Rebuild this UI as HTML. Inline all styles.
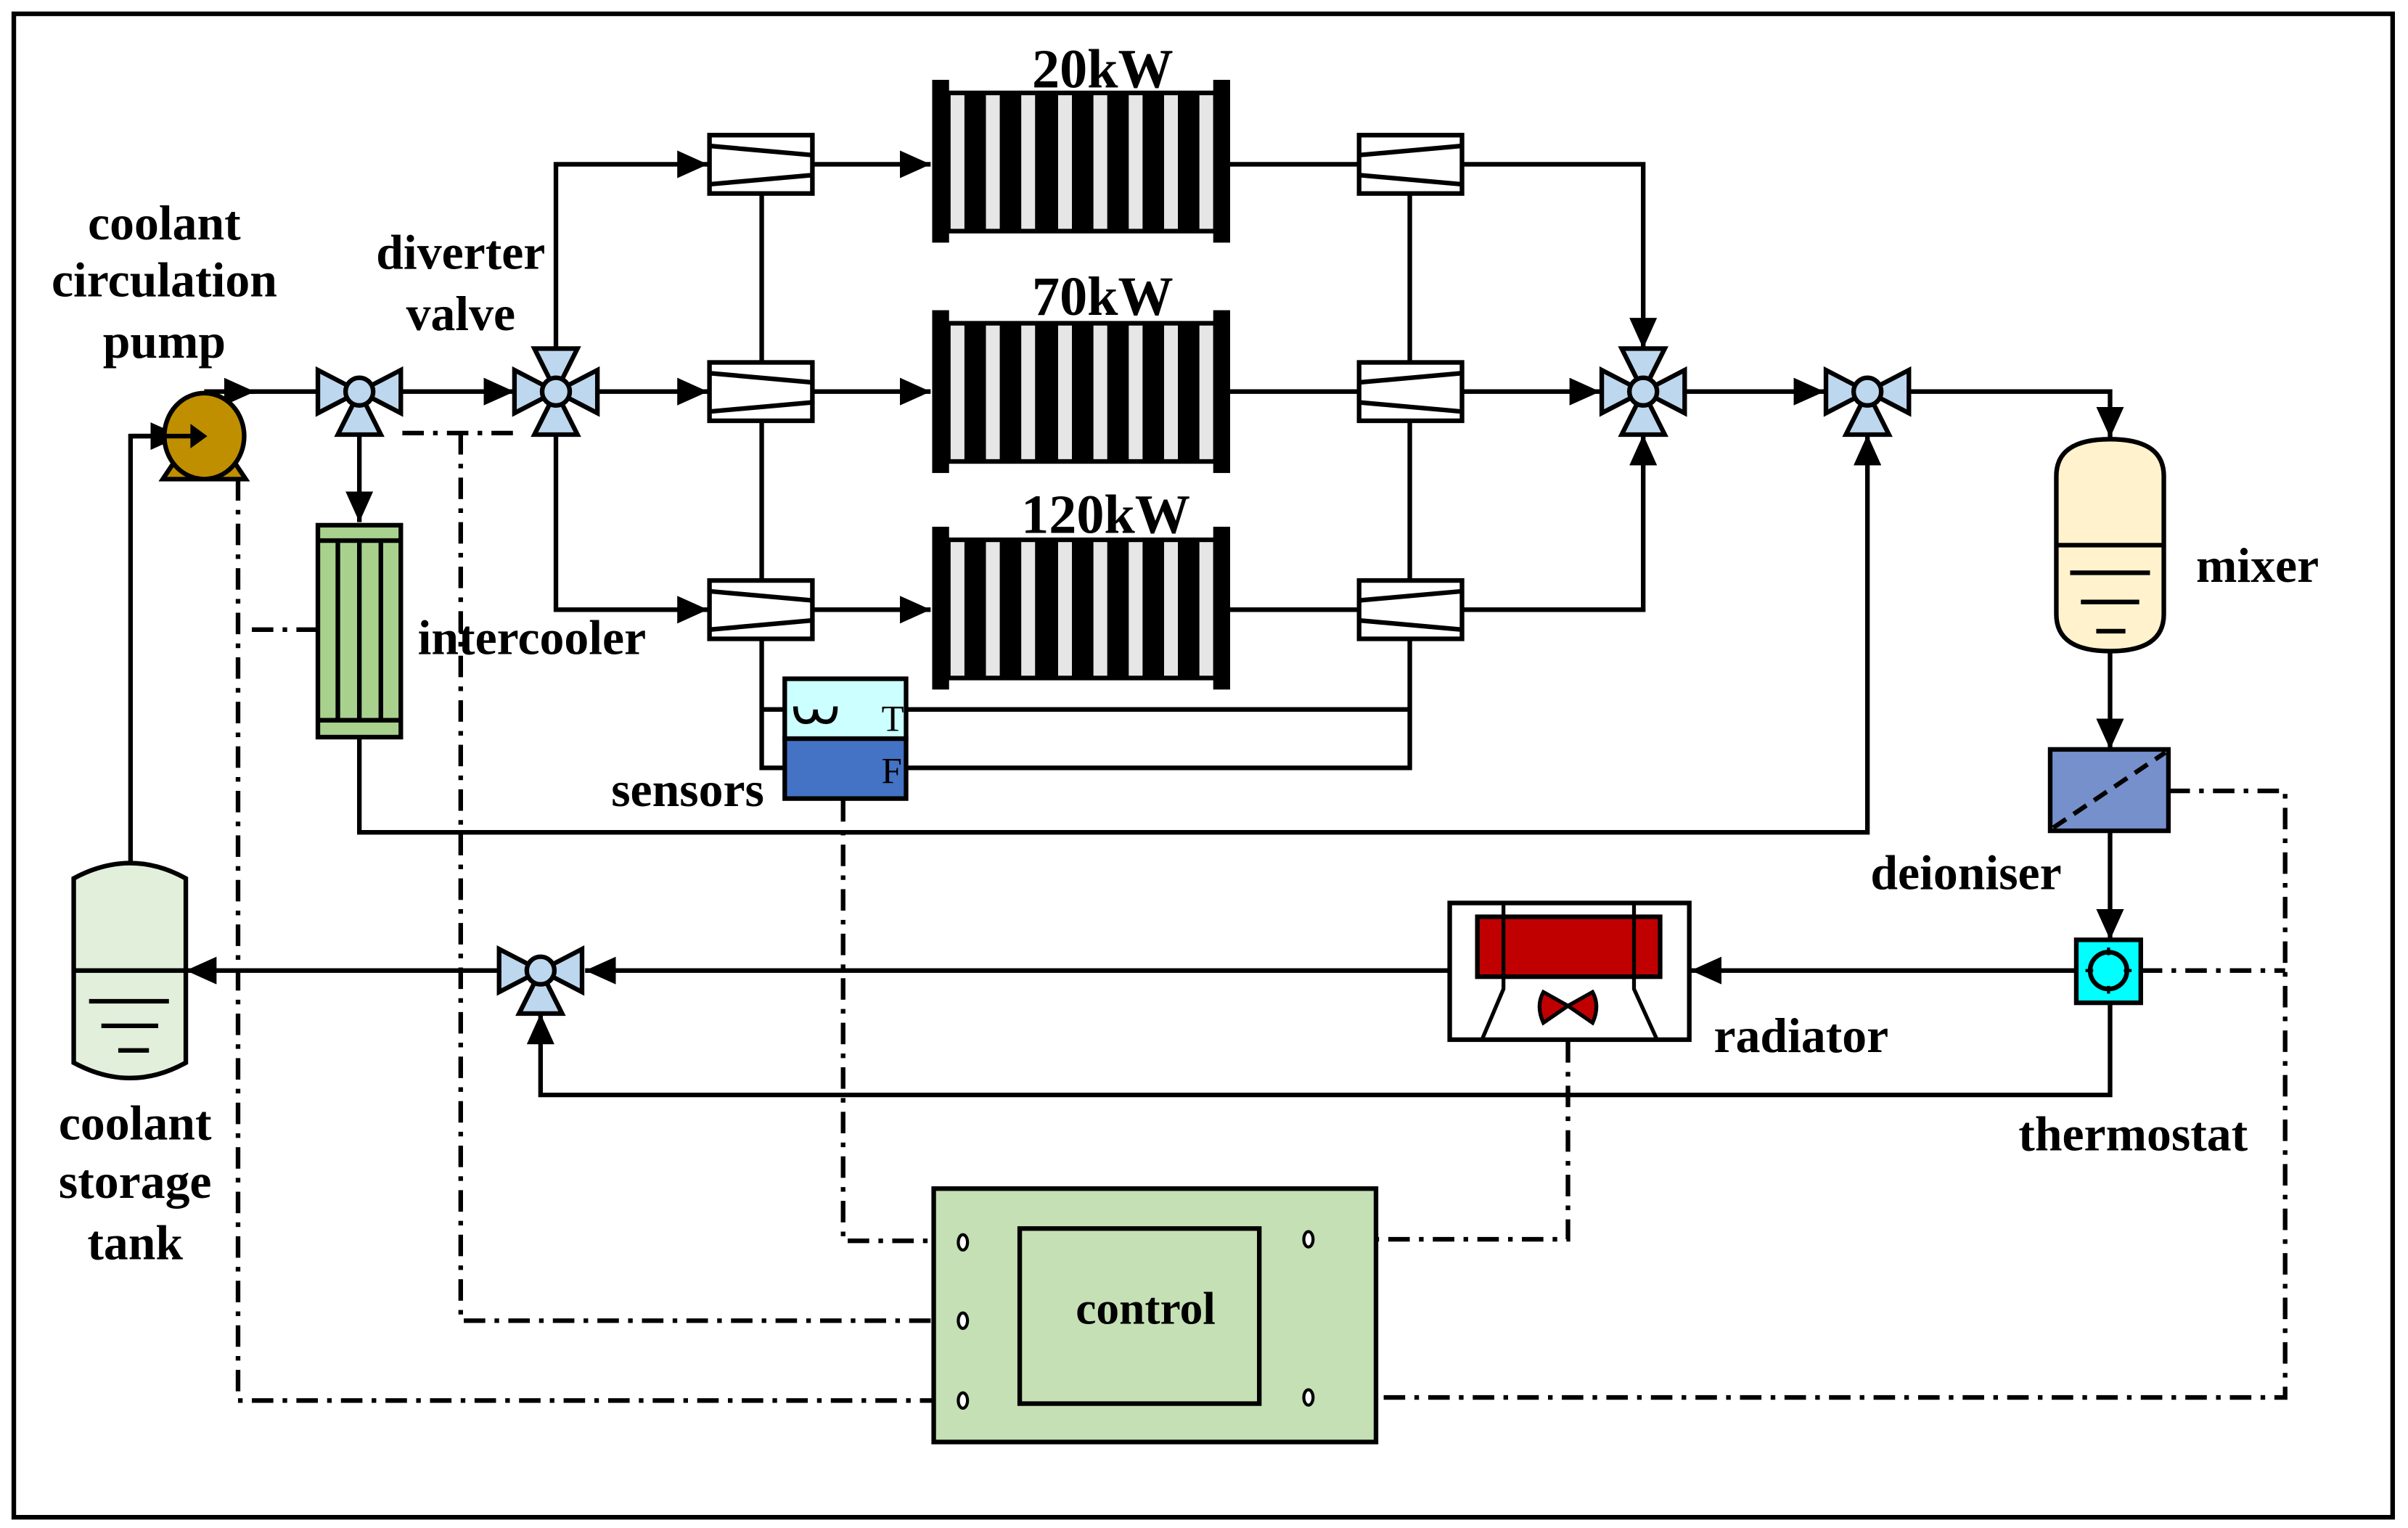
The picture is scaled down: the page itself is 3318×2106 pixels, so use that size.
<!DOCTYPE html>
<html><head><meta charset="utf-8"><style>
html,body{margin:0;padding:0;background:#fff}
svg{display:block}
text{font-family:"Liberation Serif",serif;font-weight:bold;fill:#000}
</style></head><body>
<svg width="3318" height="2106" viewBox="0 0 1568 995" preserveAspectRatio="none" xmlns="http://www.w3.org/2000/svg">
<defs>
<marker id="a" markerUnits="userSpaceOnUse" markerWidth="22" markerHeight="18" refX="20" refY="9" orient="auto">
<path d="M0,0 L20,9 L0,18 Z" fill="#000"/>
</marker>
<g id="v3">
<polygon points="-27,-14 -27,14 0,0" fill="#BDD7EE" stroke="#000" stroke-width="3"/>
<polygon points="27,-14 27,14 0,0" fill="#BDD7EE" stroke="#000" stroke-width="3"/>
<polygon points="0,0 -14,28 14,28" fill="#BDD7EE" stroke="#000" stroke-width="3"/>
<circle r="9" fill="#BDD7EE" stroke="#000" stroke-width="3"/>
</g>
<g id="v4">
<polygon points="-27,-14 -27,14 0,0" fill="#BDD7EE" stroke="#000" stroke-width="3"/>
<polygon points="27,-14 27,14 0,0" fill="#BDD7EE" stroke="#000" stroke-width="3"/>
<polygon points="0,0 -14,28 14,28" fill="#BDD7EE" stroke="#000" stroke-width="3"/>
<polygon points="0,0 -14,-28 14,-28" fill="#BDD7EE" stroke="#000" stroke-width="3"/>
<circle r="9" fill="#BDD7EE" stroke="#000" stroke-width="3"/>
</g>
<g id="fl">
<rect x="0" y="-19" width="67" height="38" fill="#fff" stroke="#000" stroke-width="3"/>
<line x1="0" y1="-12" x2="67" y2="-6" stroke="#000" stroke-width="3"/>
<line x1="0" y1="13" x2="67" y2="7" stroke="#000" stroke-width="3"/>
</g>
<g id="fr">
<rect x="0" y="-19" width="67" height="38" fill="#fff" stroke="#000" stroke-width="3"/>
<line x1="0" y1="-6" x2="67" y2="-12" stroke="#000" stroke-width="3"/>
<line x1="0" y1="7" x2="67" y2="13" stroke="#000" stroke-width="3"/>
</g>
<g id="stk">
<rect x="617" y="7" width="174" height="93" fill="#000"/>
<rect x="619" y="10" width="9" height="87" fill="#E6E6E6"/>
<rect x="642" y="10" width="9" height="87" fill="#E6E6E6"/>
<rect x="665" y="10" width="9" height="87" fill="#E6E6E6"/>
<rect x="689" y="10" width="9" height="87" fill="#E6E6E6"/>
<rect x="712" y="10" width="9" height="87" fill="#E6E6E6"/>
<rect x="735" y="10" width="9" height="87" fill="#E6E6E6"/>
<rect x="758" y="10" width="9" height="87" fill="#E6E6E6"/>
<rect x="781" y="10" width="9" height="87" fill="#E6E6E6"/>
<rect x="607" y="0" width="11" height="106" fill="#000"/>
<rect x="790" y="0" width="11" height="106" fill="#000"/>
</g>
</defs>

<rect x="9" y="9" width="1549" height="979" fill="none" stroke="#000" stroke-width="3"/>

<g fill="none" stroke="#000" stroke-width="3">
<g stroke-dasharray="14 6 3 6">
<polyline points="549,521 549,808 622,808"/>
<polyline points="262,282 335,282"/>
<polyline points="300,282 300,860 622,860"/>
<polyline points="155,312 155,912 622,912"/>
<polyline points="207,410 158,410"/>
<polyline points="1021,678 1021,807 857,807"/>
<polyline points="1412,515 1488,515 1488,910 857,910"/>
<polyline points="1394,632 1488,632"/>
</g>
<polyline points="85,562 85,284 118,284" marker-end="url(#a)"/>
<polyline points="133,255 208,255"/>
<line x1="152" y1="255" x2="166" y2="255" marker-end="url(#a)"/>
<line x1="261" y1="255" x2="335" y2="255" marker-end="url(#a)"/>
<line x1="234" y1="283" x2="234" y2="340" marker-end="url(#a)"/>
<polyline points="234,481 234,542 1216,542 1216,283" marker-end="url(#a)"/>
<polyline points="362,227 362,107 461,107" marker-end="url(#a)"/>
<line x1="389" y1="255" x2="461" y2="255" marker-end="url(#a)"/>
<polyline points="362,283 362,397 461,397" marker-end="url(#a)"/>
<line x1="529" y1="107" x2="606" y2="107" marker-end="url(#a)"/>
<line x1="529" y1="255" x2="606" y2="255" marker-end="url(#a)"/>
<line x1="529" y1="397" x2="606" y2="397" marker-end="url(#a)"/>
<line x1="801" y1="107" x2="885" y2="107"/>
<line x1="801" y1="255" x2="885" y2="255"/>
<line x1="801" y1="397" x2="885" y2="397"/>
<polyline points="496,126 496,236"/><polyline points="496,274 496,378"/>
<polyline points="510,462 496,462 496,416 496,500 510,500"/>
<polyline points="918,126 918,236"/><polyline points="918,274 918,378"/>
<polyline points="590,462 918,462 918,416 918,500 590,500"/>
<polyline points="952,107 1070,107 1070,227" marker-end="url(#a)"/>
<line x1="952" y1="255" x2="1042" y2="255" marker-end="url(#a)"/>
<polyline points="952,397 1070,397 1070,283" marker-end="url(#a)"/>
<line x1="1097" y1="255" x2="1188" y2="255" marker-end="url(#a)"/>
<polyline points="1243,255 1374,255 1374,285" marker-end="url(#a)"/>
<line x1="1374" y1="425" x2="1374" y2="488" marker-end="url(#a)"/>
<line x1="1374" y1="541" x2="1374" y2="612" marker-end="url(#a)"/>
<line x1="1352" y1="632" x2="1101" y2="632" marker-end="url(#a)"/>
<polyline points="1374,653 1374,713 352,713 352,660" marker-end="url(#a)"/>
<line x1="943" y1="632" x2="381" y2="632" marker-end="url(#a)"/>
<line x1="325" y1="632" x2="121" y2="632" marker-end="url(#a)"/>
</g>

<polygon points="106,312 160,312 152,300 114,300" fill="#BF8F00" stroke="#000" stroke-width="3"/>
<ellipse cx="133" cy="284" rx="26" ry="28" fill="#BF8F00" stroke="#000" stroke-width="3"/>
<line x1="85" y1="284" x2="125" y2="284" stroke="#000" stroke-width="3"/>
<path d="M124,276 L135,284 L124,292 Z" fill="#000"/>

<use href="#v3" x="234" y="255"/>
<use href="#v4" x="362" y="255"/>
<use href="#v4" x="1070" y="255"/>
<use href="#v3" x="1216" y="255"/>
<use href="#v3" x="352" y="632"/>

<rect x="207" y="342" width="54" height="138" fill="#A9D18E" stroke="#000" stroke-width="3"/>
<g stroke="#000" stroke-width="3"><line x1="207" y1="352" x2="261" y2="352"/><line x1="207" y1="469" x2="261" y2="469"/>
<line x1="220" y1="352" x2="220" y2="469"/><line x1="234" y1="352" x2="234" y2="469"/><line x1="248" y1="352" x2="248" y2="469"/></g>

<use href="#fl" x="462" y="107"/><use href="#fl" x="462" y="255"/><use href="#fl" x="462" y="397"/>
<use href="#fr" x="885" y="107"/><use href="#fr" x="885" y="255"/><use href="#fr" x="885" y="397"/>

<use href="#stk" y="52"/><use href="#stk" y="202"/><use href="#stk" y="343"/>
<text x="718" y="57" font-size="36" text-anchor="middle">20kW</text>
<text x="718" y="205" font-size="36" text-anchor="middle">70kW</text>
<text x="720" y="347" font-size="36" text-anchor="middle">120kW</text>

<rect x="511" y="442" width="79" height="39" fill="#CCFFFF" stroke="#000" stroke-width="3"/>
<rect x="511" y="481" width="79" height="39" fill="#4472C4" stroke="#000" stroke-width="3"/>
<path d="M518,460 Q518,470 525,470 Q531,470 531,462 Q531,470 538,470 Q544,470 544,460" fill="none" stroke="#000" stroke-width="3"/>
<text x="574" y="476" font-size="24" style="font-weight:normal">T</text>
<text x="574" y="510" font-size="24" style="font-weight:normal">F</text>

<path d="M1339,310 Q1339,286 1374,286 Q1409,286 1409,310 L1409,400 Q1409,424 1374,424 Q1339,424 1339,400 Z" fill="#FFF2CC" stroke="#000" stroke-width="3"/>
<g stroke="#000" stroke-width="3"><line x1="1339" y1="355" x2="1409" y2="355"/><line x1="1348" y1="373" x2="1400" y2="373"/><line x1="1355" y1="392" x2="1393" y2="392"/><line x1="1365" y1="411" x2="1384" y2="411"/></g>

<rect x="1335" y="488" width="77" height="53" fill="#7590CB" stroke="#000" stroke-width="3"/>
<line x1="1337" y1="539" x2="1410" y2="490" stroke="#000" stroke-width="3" stroke-dasharray="10 6"/>

<rect x="1352" y="612" width="42" height="41" fill="#00FFFF" stroke="#000" stroke-width="3"/>
<circle cx="1373" cy="632" r="12" fill="#00FFFF" stroke="#000" stroke-width="3"/>
<g stroke="#000" stroke-width="2"><line x1="1373" y1="617" x2="1373" y2="622"/><line x1="1373" y1="642" x2="1373" y2="647"/><line x1="1358" y1="632" x2="1363" y2="632"/><line x1="1383" y1="632" x2="1388" y2="632"/></g>

<rect x="944" y="588" width="156" height="89" fill="#fff" stroke="#000" stroke-width="3"/>
<rect x="962" y="597" width="119" height="39" fill="#C00000" stroke="#000" stroke-width="3"/>
<g fill="none" stroke="#000" stroke-width="2.5"><polyline points="979,588 979,644 965,677"/><polyline points="1064,588 1064,644 1079,677"/></g>
<path d="M1021,655 L1005,646 Q1000,655 1005,666 Z M1021,655 L1037,646 Q1042,655 1037,666 Z" fill="#C00000" stroke="#000" stroke-width="2.5"/>

<path d="M48,572 Q85,552 121,572 L121,692 Q85,712 48,692 Z" fill="#E2EFDA" stroke="#000" stroke-width="3"/>
<g stroke="#000" stroke-width="3"><line x1="48" y1="632" x2="121" y2="632"/><line x1="58" y1="652" x2="110" y2="652"/><line x1="66" y1="668" x2="103" y2="668"/><line x1="77" y1="684" x2="97" y2="684"/></g>

<rect x="608" y="774" width="288" height="165" fill="#C5E0B4" stroke="#000" stroke-width="3"/>
<rect x="664" y="800" width="156" height="114" fill="none" stroke="#000" stroke-width="3"/>
<g fill="#fff" stroke="#000" stroke-width="2"><ellipse cx="627" cy="809" rx="3" ry="5"/><ellipse cx="627" cy="860" rx="3" ry="5"/><ellipse cx="627" cy="912" rx="3" ry="5"/><ellipse cx="852" cy="807" rx="3" ry="5"/><ellipse cx="852" cy="910" rx="3" ry="5"/></g>
<text x="746" y="862" font-size="30" text-anchor="middle">control</text>

<g font-size="32">
<text x="107" y="156" text-anchor="middle">coolant</text>
<text x="107" y="193" text-anchor="middle">circulation</text>
<text x="107" y="233" text-anchor="middle">pump</text>
<text x="300" y="175" text-anchor="middle">diverter</text>
<text x="300" y="215" text-anchor="middle">valve</text>
<text x="272" y="426">intercooler</text>
<text x="398" y="525">sensors</text>
<text x="1430" y="379">mixer</text>
<text x="1218" y="579">deioniser</text>
<text x="1116" y="685">radiator</text>
<text x="1389" y="749" text-anchor="middle">thermostat</text>
<text x="88" y="742" text-anchor="middle">coolant</text>
<text x="88" y="780" text-anchor="middle">storage</text>
<text x="88" y="820" text-anchor="middle">tank</text>
</g>
</svg>
</body></html>
